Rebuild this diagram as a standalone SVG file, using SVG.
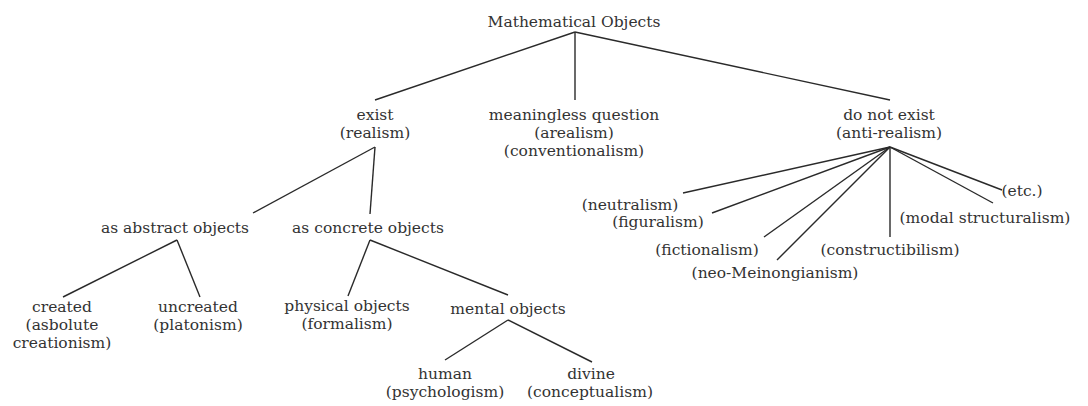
<svg xmlns="http://www.w3.org/2000/svg" width="1088" height="406" viewBox="0 0 1088 406">
<style>
text{font-family:"DejaVu Serif","Liberation Serif",serif;font-size:15.5px;fill:#333;text-anchor:middle}
#connectors line{stroke:#2a2a2a;stroke-width:1.4}
</style>
<rect width="1088" height="406" fill="#fff"/>
<g id="connectors">
<line x1="575" y1="32" x2="375" y2="100"/>
<line x1="575" y1="32" x2="575" y2="100"/>
<line x1="575" y1="32" x2="890" y2="100"/>
<line x1="375" y1="147" x2="253" y2="213"/>
<line x1="375" y1="147" x2="370" y2="214"/>
<line x1="177" y1="240" x2="63" y2="297"/>
<line x1="177" y1="240" x2="200" y2="297"/>
<line x1="370" y1="240" x2="348" y2="296"/>
<line x1="370" y1="240" x2="508" y2="295"/>
<line x1="508" y1="320" x2="445" y2="360"/>
<line x1="508" y1="320" x2="592" y2="362"/>
<line x1="890" y1="147" x2="683" y2="193"/>
<line x1="890" y1="147" x2="712" y2="213"/>
<line x1="890" y1="147" x2="764" y2="237"/>
<line x1="890" y1="147" x2="777" y2="260"/>
<line x1="890" y1="147" x2="890" y2="237"/>
<line x1="890" y1="147" x2="993" y2="203"/>
<line x1="890" y1="147" x2="1002" y2="190"/>
</g>
<g id="root"><text x="574" y="27">Mathematical Objects</text></g>
<g id="exist"><text x="375" y="120">exist</text><text x="375" y="138">(realism)</text></g>
<g id="meaningless"><text x="574" y="120">meaningless question</text><text x="574" y="138">(arealism)</text><text x="574" y="156">(conventionalism)</text></g>
<g id="notexist"><text x="889" y="120">do not exist</text><text x="889" y="138">(anti-realism)</text></g>
<g id="abstract"><text x="175" y="233">as abstract objects</text></g>
<g id="concrete"><text x="368" y="233">as concrete objects</text></g>
<g id="created"><text x="62" y="312">created</text><text x="62" y="330">(asbolute</text><text x="62" y="348">creationism)</text></g>
<g id="uncreated"><text x="198" y="312">uncreated</text><text x="198" y="330">(platonism)</text></g>
<g id="physical"><text x="347" y="311">physical objects</text><text x="347" y="329">(formalism)</text></g>
<g id="mental"><text x="508" y="314">mental objects</text></g>
<g id="human"><text x="445" y="379">human</text><text x="445" y="397">(psychologism)</text></g>
<g id="divine"><text x="591" y="379">divine</text><text x="590" y="397">(conceptualism)</text></g>
<g id="neutralism"><text x="630" y="210">(neutralism)</text></g>
<g id="figuralism"><text x="658" y="227">(figuralism)</text></g>
<g id="fictionalism"><text x="707" y="255">(fictionalism)</text></g>
<g id="meinong"><text x="775" y="278">(neo-Meinongianism)</text></g>
<g id="constructibilism"><text x="890" y="255">(constructibilism)</text></g>
<g id="modal"><text x="985" y="223">(modal structuralism)</text></g>
<g id="etc"><text x="1022" y="196">(etc.)</text></g>
</svg>
